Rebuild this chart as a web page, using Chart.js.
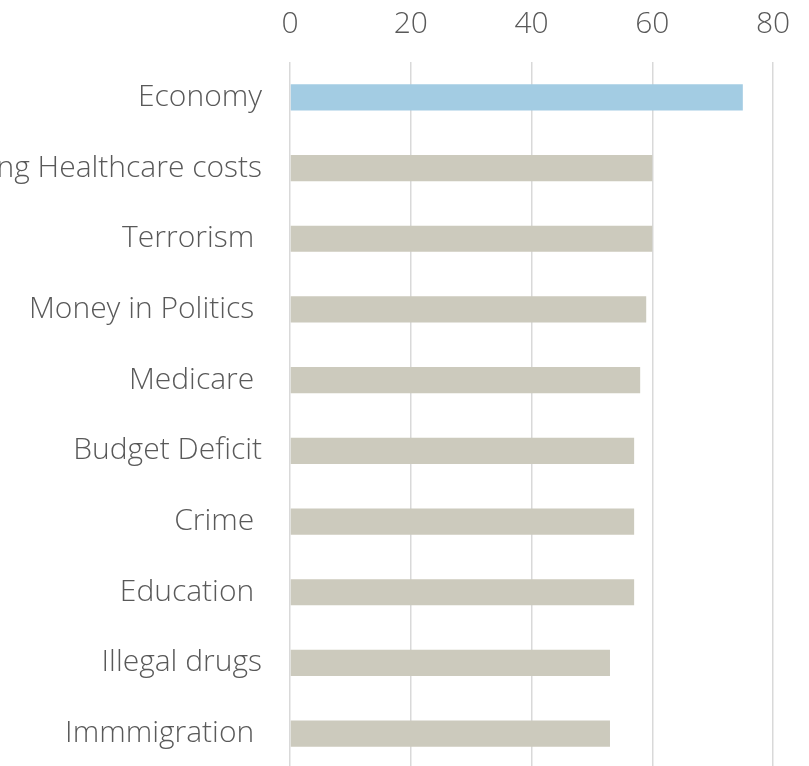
<!DOCTYPE html>
<html lang="en">
<head>
    <meta charset="UTF-8">
    <title>Issues</title>
    <style>
        html, body {
            margin: 0;
            padding: 0;
            background: #ffffff;
            overflow: hidden;
        }
        canvas {
            display: block;
        }
    </style>
</head>
<body>
    <canvas id="issuesChart" width="809" height="769"></canvas>

    <script src="https://cdn.jsdelivr.net/npm/chart.js"></script>
    <script>
        // data
        var issues = ['Economy', 'Rising Healthcare costs', 'Terrorism ', 'Money in Politics ', 'Medicare ',
                      'Budget Deficit', 'Crime ', 'Education ', 'Illegal drugs', 'Immmigration '];
        var scores = [75, 60, 60, 59, 58, 57, 57, 57, 53, 53];
        var xTicks = [0, 20, 40, 60, 80];

        var highlight = '#a3cce3';
        var normal = '#cccabd';
        var colors = scores.map(function(v, i) { return i === 0 ? highlight : normal; });

        var labelFont = { family: "'Open Sans', 'Segoe UI', sans-serif", size: 30, weight: '300' };

        var ctx = document.getElementById('issuesChart').getContext('2d');
        var chart = new Chart(ctx, {
            type: 'bar',
            data: {
                labels: issues,
                datasets: [{
                    data: scores,
                    backgroundColor: colors,
                    barPercentage: 0.37,
                    categoryPercentage: 1.0
                }]
            },
            options: {
                indexAxis: 'y',
                responsive: false,
                animation: false,
                layout: { padding: { left: 0, right: 36, top: 0, bottom: 0 } },
                plugins: {
                    legend: { display: false },
                    tooltip: { enabled: false }
                },
                scales: {
                    x: {
                        position: 'top',
                        min: 0,
                        max: 80,
                        afterBuildTicks: function(scale) {
                            scale.ticks = xTicks.map(function(v) { return { value: v }; });
                        },
                        afterFit: function(scale) {
                            scale.height = 62;
                            scale.paddingLeft = 0;
                            scale.paddingRight = 0;
                        },
                        grid: { color: '#d9d9d9', lineWidth: 1.5, drawTicks: false },
                        border: { display: false },
                        ticks: { color: '#595959', font: labelFont, padding: 20 }
                    },
                    y: {
                        afterFit: function(scale) {
                            scale.width = 290;
                            scale.paddingTop = 0;
                            scale.paddingBottom = 0;
                        },
                        grid: { display: false, drawTicks: false },
                        border: { display: false },
                        ticks: { color: '#595959', font: labelFont, padding: 28, autoSkip: false }
                    }
                }
            }
        });
    </script>
</body>
</html>
